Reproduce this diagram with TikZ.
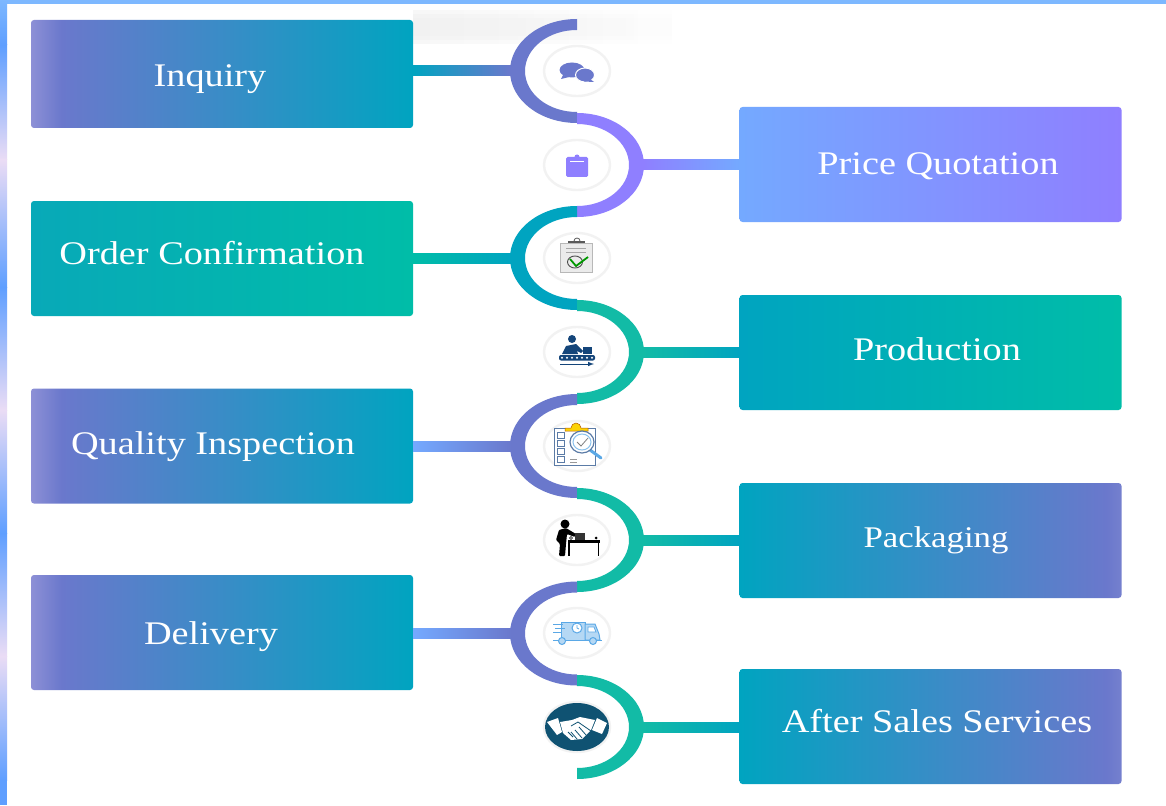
\documentclass[tikz,border=0pt]{standalone}
\usepackage{fontspec}
\newfontfamily\boxfont[FakeStretch=1.16]{Liberation Serif}
\usetikzlibrary{shapes,shadows,calc,fadings}

\definecolor{violetb}{HTML}{6A78CC}
\definecolor{violete}{HTML}{8D90D6}
\definecolor{violetf}{HTML}{7580CE}
\definecolor{lilac}{HTML}{8F7FFF}
\definecolor{skyb}{HTML}{74A9FF}
\definecolor{topb}{HTML}{7DB8FF}
\definecolor{teal1}{HTML}{00A4C0}
\definecolor{teal2}{HTML}{08A9B8}
\definecolor{green1}{HTML}{00BDA8}
\definecolor{green2}{HTML}{12BBA6}
\definecolor{stripb}{HTML}{5F9FFF}
\definecolor{stripm}{HTML}{A4CCF2}
\definecolor{stripp}{HTML}{EADCF5}
\definecolor{navy1}{HTML}{14457A}
\definecolor{truck1}{HTML}{5AA8E6}
\definecolor{shake1}{HTML}{0F5272}
\definecolor{sheet1}{HTML}{5B7BA6}

\pgfdeclarehorizontalshading{violetteal}{100bp}{color(0bp)=(violete); color(25bp)=(violete);
  color(29bp)=(violetb); color(75bp)=(teal1); color(100bp)=(teal1)}
\pgfdeclarehorizontalshading{tealviolet}{100bp}{color(0bp)=(teal1); color(25bp)=(teal1);
  color(73bp)=(violetb); color(75bp)=(violetf); color(100bp)=(violetf)}

\begin{document}
\begin{tikzpicture}[x=1pt,y=-1pt,
    boxnode/.style={rectangle,rounded corners=3pt,inner sep=0pt,minimum width=382pt,
                    minimum height=115pt},
    boxlabel/.style={anchor=base,inner sep=0pt,text=white,
                     font=\boxfont\fontsize{33}{36}\selectfont},
    iconbg/.style={ellipse,fill=white,draw=black!5,line width=2.4pt,inner sep=0pt,
                   minimum width=66pt,minimum height=50pt,
                   general shadow={fill=black!14,scale=1.05}}]

  \useasboundingbox (0,0) rectangle (1166,805);
  \fill[white] (0,0) rectangle (1166,805);

  % frame
  \fill[topb] (0,0) rectangle (1166,4);
  \foreach \ya/\yb/\ca/\cb in {45/160/stripb/stripp,160/287/stripp/stripb,287/410/stripb/stripp,
      410/533/stripp/stripb,533/656/stripb/stripp,656/780/stripp/stripb}
    \shade[top color=\ca,middle color=stripm,bottom color=\cb] (0,\ya) rectangle (7,\yb);
  \shade[top color=topb,bottom color=stripb] (0,0) rectangle (7,45);
  \fill[stripb] (0,780) rectangle (7,805);
  \foreach \ya/\yb in {10/44,14/40,18/36}
    \fill[black!6,path fading=east,opacity=0.5] (413,\ya) rectangle (672,\yb);

  \node[boxnode,shade,shading=violetteal,minimum height=108pt] (inquiry) at (222,74) {};
  \node[boxnode,left color=skyb,right color=lilac]    (price)      at (930.5,164.5) {};
  \node[boxnode,left color=teal2,right color=green1]  (order)      at (222,258.5) {};
  \node[boxnode,left color=teal1,right color=green1]  (production) at (930.5,352.5) {};
  \node[boxnode,shade,shading=violetteal]             (quality)    at (222,446) {};
  \node[boxnode,shade,shading=tealviolet]             (packaging)  at (930.5,540.5) {};
  \node[boxnode,shade,shading=violetteal]             (delivery)   at (222,632.5) {};
  \node[boxnode,shade,shading=tealviolet]             (aftersales) at (930.5,726.5) {};

  \node[boxlabel] (inquirytxt)    at (210,87)  {Inquiry};
  \node[boxlabel] (pricetxt)      at (938,175) {Price Quotation};
  \node[boxlabel] (ordertxt)      at (212,264) {Order Confirmation};
  \node[boxlabel] (productiontxt) at (937,360) {Production};
  \node[boxlabel] (qualitytxt)    at (213,454) {Quality Inspection};
  \node[boxlabel,font=\boxfont\fontsize{30}{33}\selectfont]
                  (packagingtxt)  at (936,547) {Packaging};
  \node[boxlabel] (deliverytxt)   at (211,644) {Delivery};
  \node[boxlabel] (aftertxt)      at (937,732) {After Sales Services};

  % winding band
  \foreach \cy/\ea/\col in {71/-270/violetb,165/90/lilac,258/-270/teal1,352/90/green2,
                            446/-270/violetb,540/90/green2,633.5/-270/violetb,727/90/green2}
    \fill[\col] (577,{\cy-52}) arc[start angle=-90,end angle=\ea,x radius=67,y radius=52]
          -- (577,{\cy+41}) arc[start angle=\ea,end angle=-90,x radius=52,y radius=41] -- cycle;

  \coordinate (bend1) at (511,71);
  \coordinate (bend2) at (643,165);
  \coordinate (bend3) at (511,258);
  \coordinate (bend4) at (643,352);
  \coordinate (bend5) at (511,446);
  \coordinate (bend6) at (643,540);
  \coordinate (bend7) at (511,633);
  \coordinate (bend8) at (643,727);

  % connectors
  \foreach \from/\to/\ca/\cb in {inquiry/bend1/teal1/violetb,order/bend3/green1/teal1,
                                 quality/bend5/skyb/violetb,delivery/bend7/skyb/violetb}
    \shade[left color=\ca,right color=\cb] ($(\from.east |- \to)+(0,-5)$) rectangle ($(\to)+(0,5)$);
  \foreach \from/\to/\ca/\cb in {bend2/price/lilac/skyb,bend4/production/green2/teal1,
                                 bend6/packaging/green2/teal1,bend8/aftersales/green2/teal1}
    \shade[left color=\ca,right color=\cb] ($(\from)+(0,-5)$) rectangle ($(\to.west |- \from)+(0,5)$);

  \node[iconbg] (chat)    at (577,71)  {};
  \node[iconbg] (clip)    at (577,165) {};
  \node[iconbg] (confirm) at (577,258) {};
  \node[iconbg] (worker)  at (577,352) {};
  \node[iconbg] (inspect) at (577,446) {};
  \node[iconbg] (packer)  at (577,540) {};
  \node[iconbg] (truck)   at (577,633) {};
  \node[iconbg] (shake)   at (577,727) {};

  % chat bubbles
  \fill[violetb] (572,70) ellipse[x radius=12.5,y radius=7.5];
  \fill[violetb] (563,75) -- (561,79) -- (569,77) -- cycle;
  \fill[violetb,draw=white,line width=1pt] (585,75) ellipse[x radius=9.5,y radius=7];
  \fill[violetb] (590,79) -- (594,82) -- (584,81.5) -- cycle;

  % clipboard
  \fill[lilac,rounded corners=1.5pt] (566,157) rectangle (588,177);
  \fill[lilac] (577,157) circle[radius=2.5];
  \draw[white,line width=0.8pt] (570,161) -- (584,161);

  % order form
  \fill[black!8,draw=black!28,line width=1pt] (560,243) rectangle (592,272);
  \fill[black!65] (568,241) rectangle (585,243);
  \draw[black!65,line width=0.8pt] (574,241) arc[start angle=180,end angle=360,radius=3];
  \draw[black!35,line width=0.7pt] (566,248) -- (586,248) (566,252) -- (586,252);
  \draw[black!70,line width=0.9pt] (575,262) ellipse[x radius=7.5,y radius=6];
  \draw[green!60!black,line width=1.8pt] (570,259) -- (576,266) -- (588,257);

  % worker on a belt
  \fill[navy1] (572,339) circle[radius=4];
  \fill[navy1] (562,354) -- (566,346) -- (576,344) -- (583,351) -- (581,353) -- (577,351) -- (578,354) -- cycle;
  \fill[navy1] (583,347) rectangle (592,353.5);
  \fill[navy1,rounded corners=2pt] (559,355) rectangle (595,360.5);
  \foreach \dotx in {562,567,...,592}
    \fill[white] (\dotx,357.7) circle[radius=1.1];
  \draw[navy1,line width=1pt,-latex] (560,364) -- (594,364);

  % inspection sheet
  \fill[white,draw=sheet1,line width=1pt] (554,428) rectangle (595,465);
  \fill[yellow!70!orange,draw=orange!70!black,line width=0.5pt] (565,431) -- (565,428) -- (571,428)
        arc[start angle=180,end angle=360,radius=5] -- (588,428) -- (588,431) -- cycle;
  \foreach \boxy in {432,440,448,456}
    \draw[sheet1,line width=0.8pt] (557,\boxy) rectangle (564,{\boxy+6});
  \draw[black!40,line width=0.7pt] (570,459) -- (577,459) (570,462) -- (577,462);
  \draw[truck1,line width=3pt,line cap=round] (590,450) -- (601,458);
  \fill[white,draw=sheet1,line width=1.2pt] (582,442) ellipse[x radius=12,y radius=11];
  \draw[truck1!70!white,line width=1pt] (582,442) ellipse[x radius=9,y radius=8];
  \draw[black!50,line width=0.8pt] (577,442) -- (581,446) -- (588,438);

  % packing desk
  \fill[black] (565,524) circle[radius=4.5];
  \fill[black,rounded corners=1pt] (556,540) -- (559,530) -- (566,528) -- (576,534) -- (575,537) -- (567,534) -- (566,544) -- (565,556) -- (559,556) -- (560,544) -- cycle;
  \fill[black] (568,540) rectangle (600,542.5);
  \draw[black,line width=1.2pt] (569,542) -- (569,556) (598.5,542) -- (598.5,556);
  \fill[black!80] (575,533) rectangle (585,539.5);
  \fill[black] (596,538) circle[radius=1.5];
  \fill[white,draw=black,line width=0.5pt] (571,538) circle[radius=1.5];

  % delivery truck
  \fill[truck1!45!white,draw=truck1,line width=1pt] (561,622) rectangle (585,640);
  \fill[truck1!45!white,draw=truck1,line width=1pt] (585,624) -- (595,624) -- (599,634) -- (600,640) -- (585,640) -- cycle;
  \fill[white,draw=truck1,line width=0.8pt] (588,627) -- (594,627) -- (596,632) -- (588,632) -- cycle;
  \fill[white,draw=truck1,line width=1pt] (577,628) circle[radius=5];
  \draw[truck1,line width=0.7pt] (577,625) -- (577,628) -- (579,629);
  \draw[truck1,line width=1pt] (553,624) -- (563,624) (555,628) -- (565,628) (553,632) -- (561,632) (553,640) -- (602,640);
  \fill[truck1!45!white,draw=truck1,line width=1pt] (562,641) circle[radius=3.5] (593,641) circle[radius=3.5];

  % handshake
  \fill[shake1] (577,727) ellipse[x radius=32,y radius=24];
  \fill[white] (547,722) -- (558,718) -- (562,732) -- (557,735) -- cycle;
  \fill[white] (597,718) -- (607,723) -- (602,734) -- (592,730) -- cycle;
  \fill[white] (560,722) -- (572,720) -- (580,717) -- (595,720) -- (591,730) -- (582,739) -- (571,740) -- (563,733) -- cycle;
  \draw[shake1,line width=0.8pt] (571,726) -- (578,722) -- (591,731) (573,737) -- (568,732) (577,739) -- (571,732) (582,738) -- (575,730) (586,735) -- (579,727);
\end{tikzpicture}
\end{document}
